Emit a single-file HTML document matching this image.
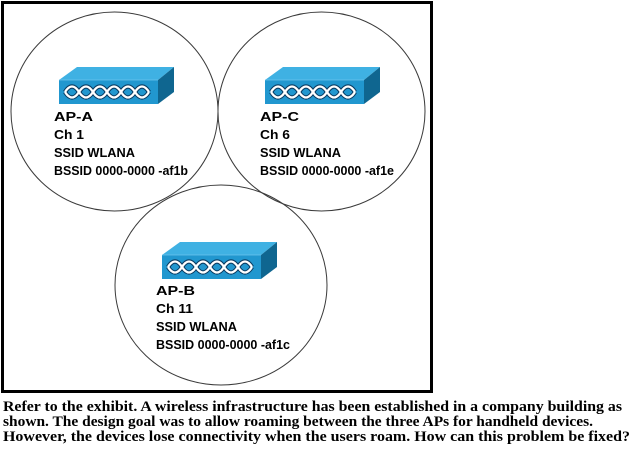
<!DOCTYPE html>
<html>
<head>
<meta charset="utf-8">
<style>
  html, body { margin: 0; padding: 0; background: #ffffff; }
  body { width: 631px; height: 454px; overflow: hidden; }
  svg { display: block; }
  .lbl { font-family: "Liberation Sans", Arial, sans-serif; font-weight: bold; font-size: 13px; fill: #000; }
  .q { font-family: "Liberation Serif", "Times New Roman", serif; font-weight: bold; font-size: 15px; fill: #000; }
</style>
</head>
<body>
<svg width="631" height="454" viewBox="0 0 631 454" xmlns="http://www.w3.org/2000/svg">
  <rect x="0" y="0" width="631" height="454" fill="#fff"/>
  <!-- frame -->
  <rect x="2.5" y="2.5" width="429" height="389" fill="none" stroke="#000" stroke-width="3"/>

  <!-- coverage circles -->
  <ellipse cx="114.5" cy="111.5" rx="103.5" ry="99.5" fill="none" stroke="#3a3a3a" stroke-width="1"/>
  <ellipse cx="321.5" cy="111.5" rx="103.5" ry="99.5" fill="none" stroke="#3a3a3a" stroke-width="1"/>
  <ellipse cx="221" cy="285" rx="106" ry="100" fill="none" stroke="#3a3a3a" stroke-width="1"/>

  <!-- AP-A icon -->
  <g>
    <polygon points="59,80 77,67 174,67 158,80" fill="#3fb1e3"/>
    <rect x="59" y="80" width="99" height="24" fill="#2197cf"/>
    <polygon points="158,80 174,67 174,92 158,104" fill="#0f6690"/>
    <line x1="59" y1="80" x2="158" y2="80" stroke="#6cc6ee" stroke-width="0.8"/>
    <path d="M65,92 Q72,81 79,92 Q86,81 93,92 Q100,81 107,92 Q114,81 121,92 Q128,81 135,92 Q142,81 149,92" fill="none" stroke="#0a3c62" stroke-width="4.4"/>
    <path d="M65,92 Q72,103 79,92 Q86,103 93,92 Q100,103 107,92 Q114,103 121,92 Q128,103 135,92 Q142,103 149,92" fill="none" stroke="#0a3c62" stroke-width="4.4"/>
    <path d="M65,92 Q72,81 79,92 Q86,81 93,92 Q100,81 107,92 Q114,81 121,92 Q128,81 135,92 Q142,81 149,92" fill="none" stroke="#ffffff" stroke-width="2.3"/>
    <path d="M65,92 Q72,103 79,92 Q86,103 93,92 Q100,103 107,92 Q114,103 121,92 Q128,103 135,92 Q142,103 149,92" fill="none" stroke="#ffffff" stroke-width="2.3"/>
  </g>

  <!-- AP-C icon -->
  <g transform="translate(206,0)">
    <polygon points="59,80 77,67 174,67 158,80" fill="#3fb1e3"/>
    <rect x="59" y="80" width="99" height="24" fill="#2197cf"/>
    <polygon points="158,80 174,67 174,92 158,104" fill="#0f6690"/>
    <line x1="59" y1="80" x2="158" y2="80" stroke="#6cc6ee" stroke-width="0.8"/>
    <path d="M65,92 Q72,81 79,92 Q86,81 93,92 Q100,81 107,92 Q114,81 121,92 Q128,81 135,92 Q142,81 149,92" fill="none" stroke="#0a3c62" stroke-width="4.4"/>
    <path d="M65,92 Q72,103 79,92 Q86,103 93,92 Q100,103 107,92 Q114,103 121,92 Q128,103 135,92 Q142,103 149,92" fill="none" stroke="#0a3c62" stroke-width="4.4"/>
    <path d="M65,92 Q72,81 79,92 Q86,81 93,92 Q100,81 107,92 Q114,81 121,92 Q128,81 135,92 Q142,81 149,92" fill="none" stroke="#ffffff" stroke-width="2.3"/>
    <path d="M65,92 Q72,103 79,92 Q86,103 93,92 Q100,103 107,92 Q114,103 121,92 Q128,103 135,92 Q142,103 149,92" fill="none" stroke="#ffffff" stroke-width="2.3"/>
  </g>

  <!-- AP-B icon -->
  <g transform="translate(103,175)">
    <polygon points="59,80 77,67 174,67 158,80" fill="#3fb1e3"/>
    <rect x="59" y="80" width="99" height="24" fill="#2197cf"/>
    <polygon points="158,80 174,67 174,92 158,104" fill="#0f6690"/>
    <line x1="59" y1="80" x2="158" y2="80" stroke="#6cc6ee" stroke-width="0.8"/>
    <path d="M65,92 Q72,81 79,92 Q86,81 93,92 Q100,81 107,92 Q114,81 121,92 Q128,81 135,92 Q142,81 149,92" fill="none" stroke="#0a3c62" stroke-width="4.4"/>
    <path d="M65,92 Q72,103 79,92 Q86,103 93,92 Q100,103 107,92 Q114,103 121,92 Q128,103 135,92 Q142,103 149,92" fill="none" stroke="#0a3c62" stroke-width="4.4"/>
    <path d="M65,92 Q72,81 79,92 Q86,81 93,92 Q100,81 107,92 Q114,81 121,92 Q128,81 135,92 Q142,81 149,92" fill="none" stroke="#ffffff" stroke-width="2.3"/>
    <path d="M65,92 Q72,103 79,92 Q86,103 93,92 Q100,103 107,92 Q114,103 121,92 Q128,103 135,92 Q142,103 149,92" fill="none" stroke="#ffffff" stroke-width="2.3"/>
  </g>

  <!-- AP-A labels -->
  <text class="lbl" x="54" y="121" textLength="39" lengthAdjust="spacingAndGlyphs">AP-A</text>
  <text class="lbl" x="54" y="139" textLength="30" lengthAdjust="spacingAndGlyphs">Ch 1</text>
  <text class="lbl" x="54" y="157" textLength="81" lengthAdjust="spacingAndGlyphs">SSID WLANA</text>
  <text class="lbl" x="54" y="175" textLength="134" lengthAdjust="spacingAndGlyphs">BSSID 0000-0000 -af1b</text>

  <!-- AP-C labels -->
  <text class="lbl" x="260" y="121" textLength="39" lengthAdjust="spacingAndGlyphs">AP-C</text>
  <text class="lbl" x="260" y="139" textLength="30" lengthAdjust="spacingAndGlyphs">Ch 6</text>
  <text class="lbl" x="260" y="157" textLength="81" lengthAdjust="spacingAndGlyphs">SSID WLANA</text>
  <text class="lbl" x="260" y="175" textLength="134" lengthAdjust="spacingAndGlyphs">BSSID 0000-0000 -af1e</text>

  <!-- AP-B labels -->
  <text class="lbl" x="156" y="295" textLength="39" lengthAdjust="spacingAndGlyphs">AP-B</text>
  <text class="lbl" x="156" y="313" textLength="37" lengthAdjust="spacingAndGlyphs">Ch 11</text>
  <text class="lbl" x="156" y="331" textLength="81" lengthAdjust="spacingAndGlyphs">SSID WLANA</text>
  <text class="lbl" x="156" y="349" textLength="134" lengthAdjust="spacingAndGlyphs">BSSID 0000-0000 -af1c</text>

  <!-- question text -->
  <text class="q" x="3" y="411" textLength="619" lengthAdjust="spacingAndGlyphs">Refer to the exhibit. A wireless infrastructure has been established in a company building as</text>
  <text class="q" x="3" y="426" textLength="590" lengthAdjust="spacingAndGlyphs">shown. The design goal was to allow roaming between the three APs for handheld devices.</text>
  <text class="q" x="3" y="441" textLength="627" lengthAdjust="spacingAndGlyphs">However, the devices lose connectivity when the users roam. How can this problem be fixed?</text>
</svg>
</body>
</html>
